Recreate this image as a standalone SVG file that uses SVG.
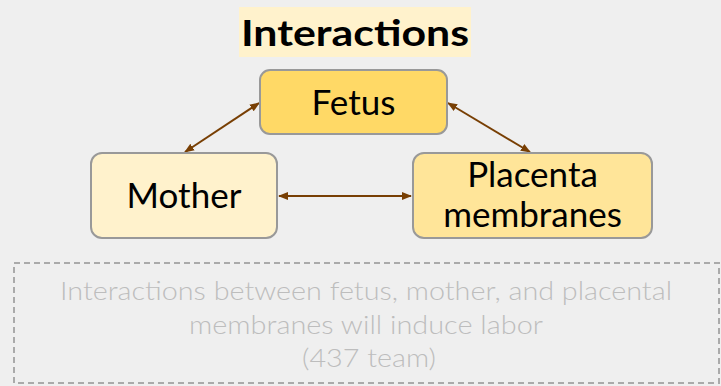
<svg xmlns="http://www.w3.org/2000/svg" width="721" height="386" viewBox="0 0 721 386">
<defs>
<style>
.node{stroke:#999999;stroke-width:2}
.lbl{font-family:Lato,"Open Sans",sans-serif;font-size:35px;fill:#000;text-anchor:middle}
.note{font-family:Lato,"Open Sans",sans-serif;font-weight:300;font-size:25px;fill:#bdbdbd;text-anchor:middle}
.conn{stroke:#783f04;stroke-width:2;fill:none;marker-start:url(#ah);marker-end:url(#ah)}
</style>
<marker id="ah" viewBox="0 0 10 10" refX="9" refY="5" markerWidth="5" markerHeight="5" orient="auto-start-reverse" markerUnits="strokeWidth">
<path d="M0,1 L10,5 L0,9 Z" fill="#783f04"/>
</marker>
</defs>
<rect width="721" height="386" fill="#efefef"/>
<g id="title">
<rect x="239" y="7" width="232" height="50" fill="#fff2cc"/>
<text x="355" y="46" font-family="Lato,'Open Sans',sans-serif" font-weight="bold" font-size="37" text-anchor="middle" textLength="228" lengthAdjust="spacingAndGlyphs">Interactions</text>
</g>
<g id="connectors">
<path class="conn" d="M185,152 L259,103"/>
<path class="conn" d="M448,103 L530,152"/>
<path class="conn" d="M279,196 L411,196"/>
</g>
<g id="fetus">
<rect class="node" x="260" y="70" width="187" height="64" rx="10" fill="#ffd966"/>
<text class="lbl" x="353.5" y="115">Fetus</text>
</g>
<g id="mother">
<rect class="node" x="91" y="153" width="186" height="85" rx="11" fill="#fff2cc"/>
<text class="lbl" x="184" y="208">Mother</text>
</g>
<g id="placenta">
<rect class="node" x="413" y="153" width="239" height="85" rx="11" fill="#ffe599"/>
<text class="lbl" x="532.5" y="187">Placenta</text>
<text class="lbl" x="532.5" y="227">membranes</text>
</g>
<g id="note">
<rect x="14" y="263" width="705" height="120" fill="none" stroke="#aaaaaa" stroke-width="2" stroke-dasharray="6,4"/>
<text class="note" x="366" y="300" textLength="612" lengthAdjust="spacingAndGlyphs">Interactions between fetus, mother, and placental</text>
<text class="note" x="366" y="334" textLength="354" lengthAdjust="spacingAndGlyphs">membranes will induce labor</text>
<text class="note" x="369" y="367" textLength="134" lengthAdjust="spacingAndGlyphs">(437 team)</text>
</g>
</svg>
